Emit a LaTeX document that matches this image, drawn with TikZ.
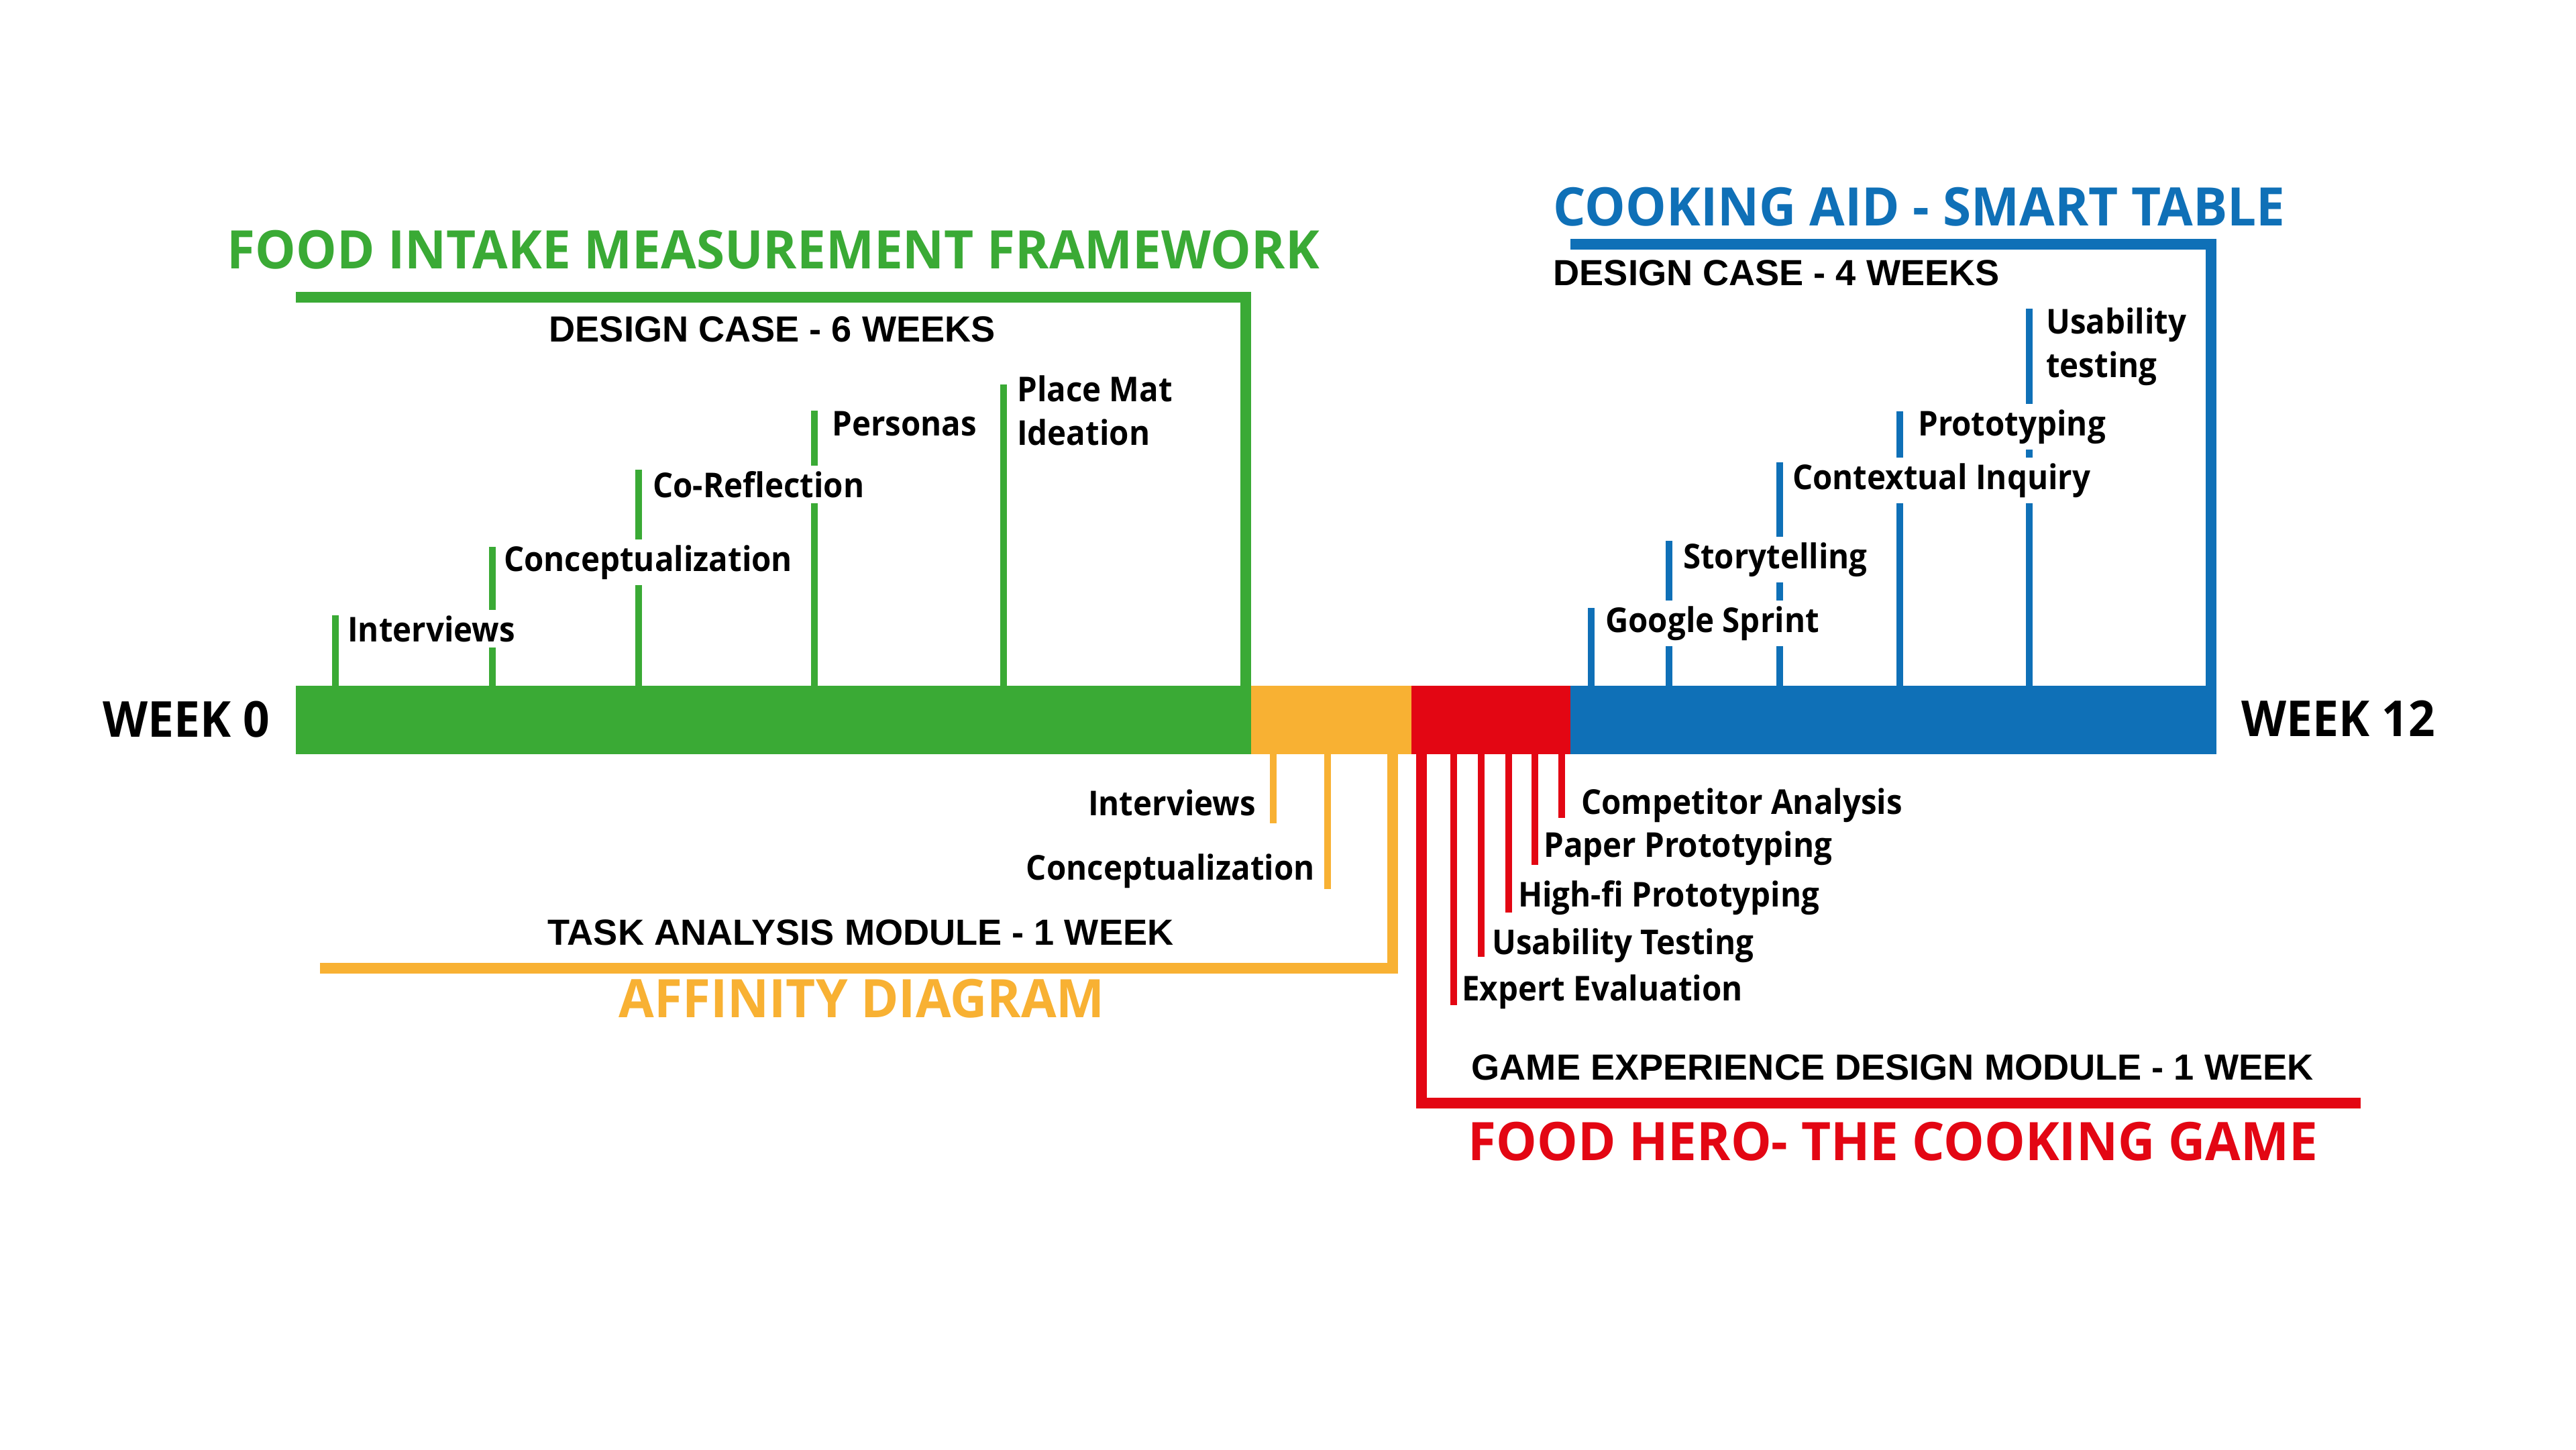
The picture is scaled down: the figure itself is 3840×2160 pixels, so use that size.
\documentclass[tikz,border=0pt]{standalone}
\usepackage{fontspec}
\setmainfont{Open Sans}
\newfontfamily\casefont{Liberation Sans}
\newfontfamily\lblfont[FakeStretch=0.93]{Open Sans}
\newfontfamily\headfont[FakeStretch=0.965]{Open Sans}
\newfontfamily\weekfont[FakeStretch=0.94]{Open Sans}
\definecolor{cgreen}{RGB}{58,170,53}
\definecolor{corange}{RGB}{248,177,51}
\definecolor{cred}{RGB}{227,6,19}
\definecolor{cblue}{RGB}{15,112,183}
\begin{document}
\begin{tikzpicture}[x=0.01cm,y=-0.01cm,
  stem/.style={line width=2.6pt},
  bracket/.style={line width=4.3pt,line join=miter},
  lbl/.style={font=\lblfont\bfseries\fontsize{14.5}{16}\selectfont,fill=white,inner xsep=1pt,inner ysep=2.4pt,anchor=base west},
  lblr/.style={lbl,anchor=base east},
  headline/.style={font=\headfont\bfseries\fontsize{22.5}{26}\selectfont,inner sep=0pt,anchor=base west},
  caseline/.style={font=\casefont\bfseries\fontsize{15.4}{18}\selectfont,inner sep=0pt,anchor=base west},
  weekline/.style={font=\weekfont\bfseries\fontsize{21}{26}\selectfont,inner sep=0pt,anchor=base west}]
\useasboundingbox (0,0) rectangle (3840,2160);
\fill[white] (0,0) rectangle (3840,2160);

% stems of the green design case (above the bar)
\foreach \x/\t [count=\i] in {500/917,734/815,952/700,1214/612,1496/573}{
  \coordinate (gs\i) at (\x,1030);
  \coordinate (ge\i) at (\x,\t);
  \draw[stem,cgreen] (gs\i) -- (ge\i);
}
% stems of the blue design case (above the bar)
\foreach \x/\t [count=\i] in {2372/906,2488/806,2653/689,2832/613,3025/460}{
  \coordinate (bs\i) at (\x,1030);
  \coordinate (be\i) at (\x,\t);
  \draw[stem,cblue] (bs\i) -- (be\i);
}
% stems of the red module (below the bar)
\foreach \x/\t [count=\i] in {2328/1219,2288/1289,2249/1360,2208/1426,2167/1498}{
  \coordinate (rs\i) at (\x,1115);
  \coordinate (re\i) at (\x,\t);
  \draw[stem,cred] (rs\i) -- (re\i);
}
% stems of the orange module (below the bar)
\foreach \x/\t [count=\i] in {1898/1227,1979/1325}{
  \coordinate (os\i) at (\x,1115);
  \coordinate (oe\i) at (\x,\t);
  \draw[stem,corange] (os\i) -- (oe\i);
}

% brackets
\coordinate (gA) at (441,443);  \coordinate (gB) at (1857,443);  \coordinate (gC) at (1857,1030);
\draw[bracket,cgreen] (gA) -- (gB) -- (gC);
\coordinate (bA) at (2341,364); \coordinate (bB) at (3296,364); \coordinate (bC) at (3296,1030);
\draw[bracket,cblue] (bA) -- (bB) -- (bC);
\coordinate (oA) at (2076,1115); \coordinate (oB) at (2076,1443); \coordinate (oC) at (477,1443);
\draw[bracket,corange] (oA) -- (oB) -- (oC);
\coordinate (rA) at (2119,1115); \coordinate (rB) at (2119,1644); \coordinate (rC) at (3519,1644);
\draw[bracket,cred] (rA) -- (rB) -- (rC);

% the twelve-week bar
\fill[cgreen]  (441,1022)  rectangle (1866,1124);
\fill[corange] (1865,1022) rectangle (2105,1124);
\fill[cred]    (2104,1022) rectangle (2342,1124);
\fill[cblue]   (2341,1022) rectangle (3304,1124);

\node[weekline] (w0)  at (153,1098)  {WEEK 0};
\node[weekline] (w12) at (3341,1097) {WEEK 12};

% green design case
\node[headline,text=cgreen] (gtitle) at (338,400) {FOOD INTAKE MEASUREMENT FRAMEWORK};
\node[caseline] (gcase) at (818,509) {DESIGN CASE - 6 WEEKS};
\node[lbl] (g1) at (514,956) {Interviews};
\node[lbl] (g2) at (747,851) {Conceptualization};
\node[lbl] (g3) at (969,741) {Co-Reflection};
\node[lbl] (g4) at (1236,649) {Personas};
\node[lbl] (g5) at (1512,598) {Place Mat};
\node[lbl] (g5b) at (1512,663) {Ideation};

% blue design case
\node[headline,text=cblue] (btitle) at (2315,336) {COOKING AID - SMART TABLE};
\node[caseline] (bcase) at (2315,425) {DESIGN CASE - 4 WEEKS};
\node[lbl] (b1) at (2389,942) {Google Sprint};
\node[lbl] (b2) at (2505,847) {Storytelling};
\node[lbl] (b3) at (2668,729) {Contextual Inquiry};
\node[lbl] (b4) at (2855,649) {Prototyping};
\node[lbl] (b5) at (3046,497) {Usability};
\node[lbl] (b5b) at (3046,562) {testing};

% orange module
\node[lblr] (o1) at (1876,1215) {Interviews};
\node[lblr] (o2) at (1964,1311) {Conceptualization};
\node[caseline] (ocase) at (816,1408) {TASK ANALYSIS MODULE - 1 WEEK};
\node[headline,text=corange] (otitle) at (922,1516) {AFFINITY DIAGRAM};

% red module
\node[lbl] (r1) at (2353,1213) {Competitor Analysis};
\node[lbl] (r2) at (2297,1277) {Paper Prototyping};
\node[lbl] (r3) at (2259,1351) {High-fi Prototyping};
\node[lbl] (r4) at (2220,1422) {Usability Testing};
\node[lbl] (r5) at (2175,1491) {Expert Evaluation};
\node[caseline] (rcase) at (2193,1609) {GAME EXPERIENCE DESIGN MODULE - 1 WEEK};
\node[headline,text=cred] (rtitle) at (2188,1729) {FOOD HERO- THE COOKING GAME};
\end{tikzpicture}
\end{document}
